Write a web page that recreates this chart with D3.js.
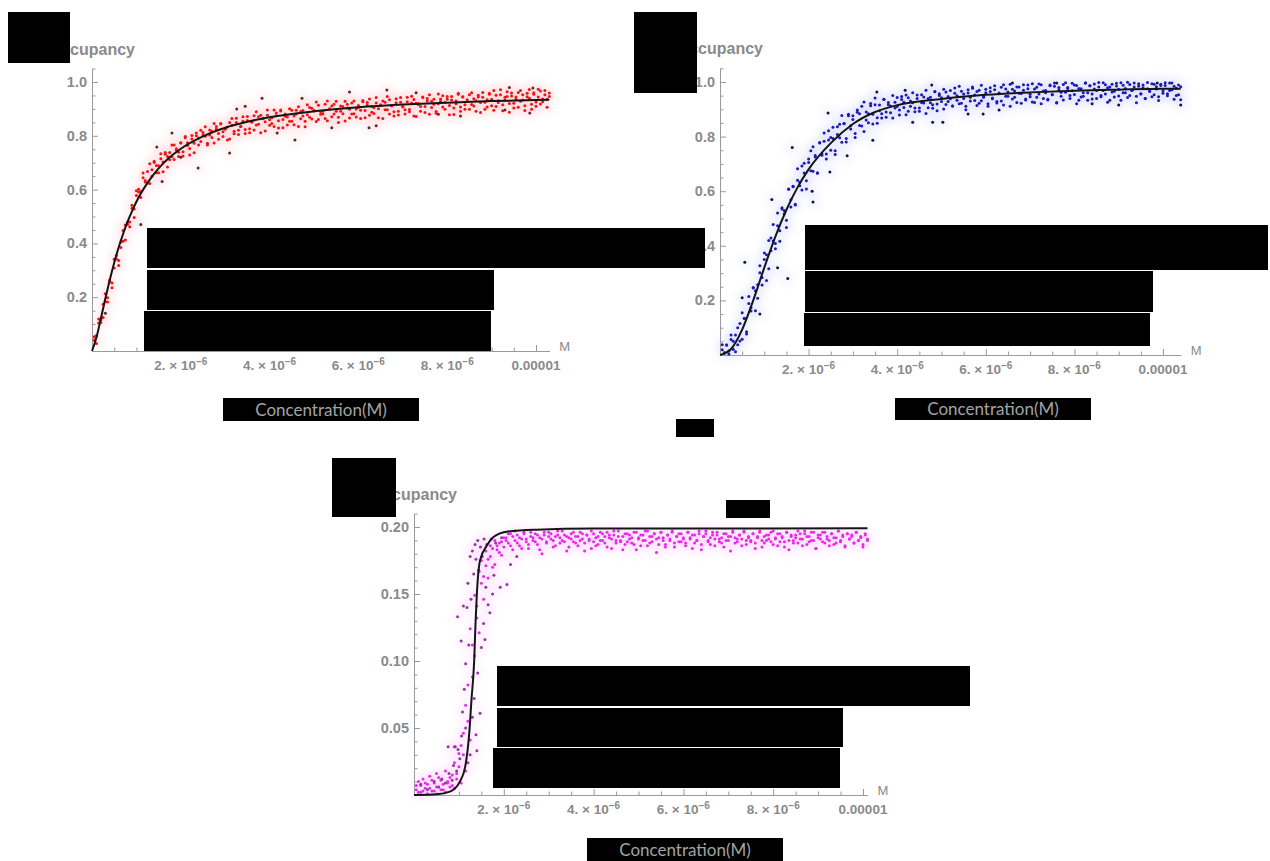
<!DOCTYPE html>
<html>
<head>
<meta charset="utf-8">
<script src="https://cdn.jsdelivr.net/npm/d3@7"></script>
<style>
  body { margin: 0; background: #ffffff; }
  svg { display: block; }
  .tick-label { font-family: "Liberation Sans", Arial, sans-serif; font-weight: bold; fill: #8a8a8a; }
  .axis-name { font-family: "Liberation Sans", Arial, sans-serif; font-weight: bold; fill: #8a8a8a; }
  .unit-name { font-family: "Liberation Sans", Arial, sans-serif; fill: #8a8a8a; }
  .caption { font-family: Lato, "Open Sans", sans-serif; fill: #a3a3a3; }
</style>
</head>
<body>
<svg id="fig" width="1270" height="861"></svg>
<script>
// Concentration grid (µM) shared by the three titrations
const concentrationUM = [
  0.05,0.1,0.15,0.2,0.25,0.3,0.35,0.4,0.45,0.5,0.55,0.6,0.65,0.7,0.75,0.8,0.85,0.9,0.95,1,
  1.05,1.1,1.15,1.2,1.25,1.3,1.35,1.4,1.45,1.5,1.55,1.6,1.65,1.7,1.75,1.8,1.85,1.9,1.95,2,
  2.05,2.1,2.15,2.2,2.25,2.3,2.35,2.4,2.45,2.5,2.55,2.6,2.65,2.7,2.75,2.8,2.85,2.9,2.95,3,
  3.05,3.1,3.15,3.2,3.25,3.3,3.35,3.4,3.45,3.5,3.55,3.6,3.65,3.7,3.75,3.8,3.85,3.9,3.95,4,
  4.05,4.1,4.15,4.2,4.25,4.3,4.35,4.4,4.45,4.5,4.55,4.6,4.65,4.7,4.75,4.8,4.85,4.9,4.95,5,
  5.05,5.1,5.15,5.2,5.25,5.3,5.35,5.4,5.45,5.5,5.55,5.6,5.65,5.7,5.75,5.8,5.85,5.9,5.95,6,
  6.05,6.1,6.15,6.2,6.25,6.3,6.35,6.4,6.45,6.5,6.55,6.6,6.65,6.7,6.75,6.8,6.85,6.9,6.95,7,
  7.05,7.1,7.15,7.2,7.25,7.3,7.35,7.4,7.45,7.5,7.55,7.6,7.65,7.7,7.75,7.8,7.85,7.9,7.95,8,
  8.05,8.1,8.15,8.2,8.25,8.3,8.35,8.4,8.45,8.5,8.55,8.6,8.65,8.7,8.75,8.8,8.85,8.9,8.95,9,
  9.05,9.1,9.15,9.2,9.25,9.3,9.35,9.4,9.45,9.5,9.55,9.6,9.65,9.7,9.75,9.8,9.85,9.9,9.95,10,
  10.05,10.1,10.15,10.2,10.25,10.3,10.35,10.4
];

// Occupancy, non-cooperative binding (red), two replicates
const occupancyA1 = [
  0.040,0.028,0.119,0.116,0.125,0.213,0.198,0.258,0.235,0.309,
  0.355,0.336,0.385,0.448,0.413,0.479,0.480,0.542,0.496,0.578,
  0.591,0.593,0.662,0.628,0.667,0.623,0.674,0.705,0.663,0.689,
  0.715,0.666,0.738,0.723,0.711,0.766,0.712,0.752,0.739,0.774,
  0.725,0.793,0.764,0.753,0.788,0.737,0.810,0.792,0.779,0.812,
  0.834,0.772,0.803,0.817,0.773,0.835,0.809,0.846,0.797,0.824,
  0.833,0.788,0.864,0.817,0.849,0.805,0.835,0.871,0.823,0.857,
  0.811,0.851,0.875,0.840,0.871,0.811,0.865,0.852,0.896,0.839,
  0.867,0.835,0.885,0.856,0.896,0.830,0.881,0.870,0.854,0.895,
  0.841,0.881,0.908,0.863,0.894,0.834,0.878,0.905,0.862,0.894,
  0.926,0.861,0.890,0.881,0.917,0.856,0.899,0.911,0.881,0.928,
  0.869,0.891,0.909,0.855,0.917,0.899,0.881,0.929,0.870,0.905,
  0.895,0.927,0.867,0.914,0.937,0.888,0.904,0.922,0.867,0.913,
  0.929,0.897,0.946,0.881,0.912,0.889,0.938,0.877,0.925,0.908,
  0.897,0.943,0.889,0.922,0.935,0.872,0.920,0.909,0.942,0.887,
  0.929,0.953,0.905,0.936,0.884,0.919,0.928,0.949,0.899,0.936,
  0.913,0.946,0.879,0.929,0.958,0.907,0.944,0.899,0.928,0.953,
  0.916,0.938,0.891,0.944,0.924,0.961,0.899,0.934,0.954,0.912,
  0.968,0.909,0.930,0.953,0.893,0.943,0.964,0.920,0.948,0.903,
  0.936,0.961,0.928,0.953,0.894,0.945,0.972,0.917,0.960,0.910,
  0.944,0.967,0.927,0.953,0.936,0.959
];
const occupancyA2 = [
  0.053,0.058,0.104,0.106,0.174,0.184,0.182,0.264,0.253,0.341,
  0.342,0.318,0.405,0.408,0.468,0.471,0.462,0.531,0.528,0.596,
  0.601,0.571,0.644,0.634,0.625,0.696,0.650,0.701,0.690,0.663,
  0.733,0.703,0.731,0.684,0.738,0.722,0.766,0.746,0.723,0.773,
  0.741,0.797,0.774,0.729,0.801,0.772,0.800,0.766,0.821,0.803,
  0.798,0.766,0.822,0.794,0.846,0.825,0.787,0.844,0.815,0.828,
  0.784,0.849,0.839,0.808,0.865,0.821,0.835,0.854,0.809,0.872,
  0.826,0.851,0.822,0.889,0.843,0.876,0.863,0.818,0.876,0.860,
  0.846,0.896,0.875,0.829,0.892,0.861,0.873,0.840,0.901,0.854,
  0.874,0.895,0.835,0.890,0.874,0.854,0.915,0.869,0.902,0.892,
  0.853,0.914,0.880,0.891,0.864,0.929,0.901,0.871,0.917,0.891,
  0.849,0.911,0.882,0.928,0.903,0.866,0.922,0.882,0.900,0.913,
  0.864,0.931,0.894,0.924,0.876,0.909,0.883,0.942,0.901,0.915,
  0.864,0.925,0.897,0.934,0.912,0.874,0.923,0.891,0.942,0.908,
  0.881,0.927,0.898,0.947,0.874,0.921,0.916,0.891,0.944,0.909,
  0.939,0.880,0.928,0.917,0.890,0.955,0.937,0.907,0.925,0.946,
  0.878,0.933,0.903,0.919,0.954,0.891,0.945,0.915,0.934,0.899,
  0.960,0.911,0.930,0.951,0.887,0.943,0.925,0.907,0.958,0.936,
  0.895,0.951,0.924,0.971,0.915,0.933,0.946,0.888,0.959,0.921,
  0.944,0.906,0.968,0.933,0.912,0.958,0.940,0.899,0.954,0.926,
  0.973,0.918,0.937,0.968,0.906,0.946
];
const outliersA = [
  [0.3,0.14],[1.1,0.47],[1.46,0.758],[1.58,0.63],[1.8,0.81],
  [2.0,0.72],[2.39,0.68],[3.1,0.736],[3.26,0.90],[3.45,0.91],[3.83,0.94],[4.17,0.81],
  [4.57,0.784],[4.73,0.94],[5.4,0.83],[5.8,0.963],[6.24,0.83],[6.4,0.837],[6.64,0.97],
  [7.3,0.96],[7.8,0.88],[8.3,0.874],[9.3,0.896],[9.4,0.98],[9.86,0.885],[9.93,0.978]
];
const fitA = [
  [0,0],[0.1,0.050],[0.2,0.121],[0.3,0.194],[0.4,0.264],[0.5,0.328],[0.6,0.385],[0.7,0.435],
  [0.8,0.480],[0.9,0.519],[1.0,0.555],[1.25,0.625],[1.5,0.679],[1.75,0.720],[2.0,0.752],
  [2.5,0.798],[3.0,0.830],[3.5,0.852],[4,0.869],[5,0.891],[6,0.906],[7,0.916],[8,0.923],
  [9,0.929],[10,0.933],[10.3,0.934]
];

// Occupancy, cooperative binding (blue), two replicates
const occupancyB1 = [
  0.019,0.009,0.037,0.015,0.057,0.020,0.073,0.038,0.115,0.058,
  0.135,0.085,0.214,0.161,0.245,0.162,0.257,0.327,0.256,0.350,
  0.273,0.419,0.382,0.478,0.389,0.473,0.417,0.535,0.517,0.467,
  0.608,0.542,0.618,0.549,0.682,0.633,0.604,0.702,0.608,0.705,
  0.748,0.673,0.725,0.668,0.777,0.732,0.813,0.718,0.788,0.750,
  0.834,0.734,0.808,0.845,0.779,0.847,0.780,0.876,0.828,0.876,
  0.811,0.889,0.841,0.911,0.819,0.890,0.851,0.921,0.882,0.917,
  0.849,0.916,0.884,0.937,0.871,0.917,0.887,0.951,0.905,0.943,
  0.879,0.936,0.907,0.952,0.893,0.930,0.961,0.905,0.940,0.893,
  0.953,0.923,0.970,0.906,0.944,0.917,0.964,0.895,0.957,0.929,
  0.973,0.918,0.947,0.969,0.912,0.959,0.933,0.984,0.922,0.956,
  0.911,0.972,0.944,0.982,0.932,0.965,0.922,0.988,0.944,0.973,
  0.920,0.965,0.939,0.986,0.929,0.960,0.981,0.916,0.974,0.948,
  0.992,0.938,0.967,0.925,0.982,0.958,0.990,0.934,0.975,0.946,
  0.994,0.925,0.981,0.956,0.990,0.940,0.969,0.934,0.986,0.953,
  0.996,0.923,0.980,0.948,0.991,0.962,0.976,0.940,0.995,0.954,
  0.987,0.933,0.975,0.948,0.997,0.961,0.986,0.938,0.993,0.969,
  0.982,0.946,0.997,0.956,0.979,0.933,0.992,0.966,0.985,0.949,
  0.997,0.961,0.976,0.943,0.991,0.969,0.996,0.948,0.984,0.957,
  0.989,0.940,0.975,0.965,0.994,0.953,0.983,0.946,0.992,0.968,
  0.987,0.957,0.996,0.972,0.984,0.951,0.989,0.935
];
const occupancyB2 = [
  0.038,0.006,0.037,0.004,0.073,0.050,0.012,0.100,0.051,0.155,
  0.134,0.077,0.189,0.173,0.247,0.235,0.208,0.301,0.284,0.374,
  0.367,0.316,0.429,0.418,0.408,0.520,0.455,0.539,0.529,0.494,
  0.607,0.569,0.616,0.552,0.640,0.620,0.692,0.667,0.638,0.718,
  0.675,0.763,0.731,0.666,0.778,0.737,0.783,0.736,0.821,0.797,
  0.793,0.748,0.836,0.796,0.877,0.848,0.793,0.882,0.840,0.863,
  0.797,0.897,0.884,0.839,0.927,0.861,0.884,0.913,0.846,0.941,
  0.869,0.895,0.868,0.936,0.890,0.925,0.912,0.868,0.926,0.910,
  0.897,0.947,0.926,0.880,0.942,0.911,0.924,0.891,0.952,0.905,
  0.925,0.945,0.885,0.940,0.924,0.904,0.965,0.919,0.951,0.942,
  0.901,0.963,0.929,0.939,0.912,0.978,0.950,0.920,0.966,0.940,
  0.898,0.960,0.930,0.977,0.952,0.914,0.970,0.931,0.948,0.961,
  0.911,0.979,0.941,0.972,0.923,0.957,0.930,0.990,0.948,0.963,
  0.911,0.973,0.944,0.982,0.959,0.922,0.970,0.938,0.989,0.955,
  0.927,0.974,0.944,0.993,0.920,0.967,0.961,0.937,0.989,0.954,
  0.984,0.925,0.972,0.962,0.934,0.997,0.980,0.951,0.968,0.989,
  0.920,0.976,0.945,0.961,0.995,0.933,0.986,0.956,0.974,0.940,
  0.998,0.951,0.969,0.990,0.926,0.982,0.963,0.945,0.995,0.973,
  0.933,0.988,0.961,0.999,0.951,0.969,0.982,0.924,0.994,0.956,
  0.979,0.940,0.998,0.968,0.946,0.992,0.974,0.932,0.987,0.959,
  0.997,0.950,0.969,0.996,0.937,0.977,0.953,0.983
];
const outliersB = [
  [0.5,0.21],[0.56,0.34],[0.9,0.15],[1.17,0.57],[1.3,0.32],[1.53,0.28],[1.63,0.76],
  [2.08,0.60],[2.1,0.56],[2.44,0.886],[2.48,0.67],[2.87,0.73],[3.45,0.787],[3.54,0.963],
  [4.18,0.97],[4.35,0.853],[4.78,0.989],[4.8,0.853],[5.03,0.853],[5.6,0.883],[5.94,0.883],
  [6.3,0.897],[6.6,0.996],[7.6,0.996],[8.4,0.92],[9.0,0.916],[9.87,0.996],[10.4,0.916]
];
const fitB = [
  [0,0],[0.25,0.022],[0.5,0.093],[0.75,0.20],[1,0.32],[1.25,0.434],[1.5,0.532],
  [1.75,0.614],[2,0.68],[2.5,0.776],[3,0.846],[3.5,0.89],[4,0.915],[5,0.938],[6,0.953],
  [7,0.962],[8,0.968],[9,0.972],[10,0.975],[10.4,0.975]
];

// Occupancy, highly cooperative binding (magenta), two replicates
const occupancyC1 = [
  0.004,0.002,0.007,0.003,0.009,0.001,0.005,0.011,0.003,0.006,
  0.013,0.004,0.008,0.002,0.010,0.006,0.015,0.005,0.012,0.021,
  0.009,0.030,0.018,0.055,0.041,0.088,0.104,0.132,0.121,0.158,
  0.146,0.171,0.162,0.178,0.184,0.172,0.186,0.181,0.189,0.185,
  0.192,0.188,0.195,0.183,0.190,0.194,0.186,0.191,0.196,0.189,
  0.184,0.193,0.190,0.195,0.187,0.192,0.180,0.194,0.189,0.196,
  0.191,0.185,0.193,0.197,0.188,0.190,0.194,0.182,0.192,0.195,
  0.189,0.193,0.186,0.196,0.191,0.188,0.194,0.190,0.184,0.195,
  0.192,0.187,0.196,0.190,0.193,0.185,0.194,0.191,0.197,0.188,
  0.193,0.190,0.183,0.195,0.189,0.194,0.192,0.187,0.196,0.191,
  0.186,0.194,0.190,0.197,0.188,0.193,0.195,0.181,0.192,0.196,
  0.190,0.187,0.194,0.191,0.196,0.185,0.193,0.189,0.195,0.192,
  0.188,0.196,0.191,0.184,0.194,0.190,0.197,0.187,0.193,0.195,
  0.189,0.192,0.196,0.186,0.194,0.191,0.188,0.195,0.190,0.193,
  0.182,0.196,0.192,0.189,0.194,0.191,0.197,0.187,0.193,0.190,
  0.195,0.188,0.192,0.196,0.185,0.193,0.190,0.194,0.189,0.197,
  0.191,0.186,0.195,0.192,0.189,0.196,0.183,0.193,0.190,0.194,
  0.188,0.195,0.191,0.197,0.187,0.193,0.190,0.196,0.184,0.192,
  0.194,0.189,0.196,0.191,0.186,0.195,0.192,0.188,0.197,0.190,
  0.193,0.185,0.195,0.191,0.194,0.188,0.196,0.190,0.193,0.187,
  0.195,0.191
];
const occupancyC2 = [
  0.007,0.010,0.002,0.012,0.005,0.008,0.014,0.003,0.009,0.016,
  0.006,0.011,0.004,0.018,0.009,0.013,0.007,0.024,0.016,0.031,
  0.037,0.046,0.067,0.082,0.124,0.112,0.149,0.141,0.167,0.175,
  0.163,0.182,0.176,0.186,0.170,0.190,0.183,0.188,0.179,0.192,
  0.190,0.195,0.186,0.193,0.197,0.188,0.192,0.184,0.195,0.191,
  0.187,0.196,0.192,0.189,0.194,0.183,0.191,0.196,0.188,0.193,
  0.195,0.190,0.186,0.194,0.192,0.197,0.189,0.193,0.185,0.191,
  0.196,0.188,0.193,0.190,0.195,0.182,0.194,0.191,0.197,0.189,
  0.186,0.193,0.190,0.195,0.188,0.196,0.192,0.184,0.194,0.190,
  0.197,0.189,0.193,0.187,0.195,0.191,0.188,0.196,0.183,0.192,
  0.194,0.190,0.197,0.186,0.193,0.189,0.195,0.191,0.187,0.196,
  0.192,0.185,0.194,0.190,0.197,0.188,0.193,0.195,0.189,0.191,
  0.186,0.196,0.192,0.194,0.188,0.190,0.195,0.183,0.193,0.197,
  0.190,0.187,0.194,0.191,0.196,0.189,0.192,0.185,0.195,0.190,
  0.193,0.197,0.188,0.191,0.194,0.186,0.196,0.190,0.192,0.189,
  0.195,0.184,0.193,0.197,0.190,0.188,0.194,0.191,0.196,0.187,
  0.192,0.195,0.189,0.193,0.185,0.196,0.190,0.194,0.188,0.192,
  0.197,0.191,0.186,0.195,0.193,0.189,0.196,0.190,0.184,0.194,
  0.191,0.196,0.188,0.193,0.190,0.195,0.187,0.192,0.197,0.189,
  0.194,0.186,0.195,0.191,0.193,0.188,0.196,0.190,0.192,0.185,
  0.194,0.190
];
const transitionC = [
  [0.15,0.008],[0.3,0.004],[0.45,0.010],[0.55,0.006],[0.62,0.012],[0.7,0.009],[0.78,0.016],
  [0.85,0.011],[0.88,0.022],[0.92,0.036],[0.95,0.018],[0.98,0.034],[1.02,0.027],[1.06,0.044],
  [1.08,0.062],[1.12,0.079],[1.05,0.115],[0.97,0.133],[1.1,0.141],[1.15,0.098],[1.18,0.14],
  [1.2,0.158],[1.22,0.112],[1.25,0.178],[1.27,0.146],[1.3,0.182],[1.33,0.165],[1.36,0.187],
  [1.38,0.176],[1.42,0.190],[1.44,0.168],[1.48,0.185],[1.52,0.178],[1.56,0.191],[1.6,0.155],
  [1.62,0.187],[1.69,0.136],[1.72,0.191],[1.78,0.164],[1.82,0.188],[1.92,0.155],[1.95,0.192],
  [2.07,0.157],[2.15,0.172],[2.29,0.178],[1.3,0.058],[1.34,0.072],[1.38,0.045],[1.42,0.091],
  [1.47,0.061],[1.5,0.110],[1.58,0.116],[1.55,0.128],[1.65,0.142],[1.75,0.150],[1.25,0.030],
  [1.2,0.024],[1.15,0.050],[1.4,0.033],[0.76,0.036],[0.9,0.036]
];
const fitC = [
  [0,0],[0.5,0.0005],[0.8,0.0025],[1.02,0.010],[1.14,0.021],[1.23,0.046],[1.28,0.071],
  [1.34,0.100],[1.37,0.128],[1.40,0.150],[1.47,0.175],[1.62,0.186],[1.77,0.1925],
  [2.06,0.1965],[2.73,0.198],[4,0.1988],[10.1,0.199]
];

// Axis ticks
const xMajorTicks = [2e-6, 4e-6, 6e-6, 8e-6, 1e-5];
const xMajorMantissa = ["2.", "4.", "6.", "8.", null];
const xMinorTicks = [0.5e-6,1e-6,1.5e-6,2.5e-6,3e-6,3.5e-6,4.5e-6,5e-6,5.5e-6,6.5e-6,7e-6,7.5e-6,8.5e-6,9e-6,9.5e-6];
const yMajorTicksAB = [0.2, 0.4, 0.6, 0.8, 1.0];
const yMajorLabelsAB = ["0.2", "0.4", "0.6", "0.8", "1.0"];
const yMinorTicksAB = [0.05,0.1,0.15,0.25,0.3,0.35,0.45,0.5,0.55,0.65,0.7,0.75,0.85,0.9,0.95,1.05];
const yMajorTicksC = [0.05, 0.10, 0.15, 0.20];
const yMajorLabelsC = ["0.05", "0.10", "0.15", "0.20"];
const yMinorTicksC = [0.01,0.02,0.03,0.04,0.06,0.07,0.08,0.09,0.11,0.12,0.13,0.14,0.16,0.17,0.18,0.19,0.21];

const svg = d3.select("#fig");
const defs = svg.append("defs");
defs.append("filter").attr("id", "haze")
  .attr("x", "-20%").attr("y", "-20%").attr("width", "140%").attr("height", "140%")
  .append("feGaussianBlur").attr("stdDeviation", 5);

// Panel frames: origin, pixel position of 1e-5 M, unit height and axis extents
const panels = [
  { reps: [occupancyA1, occupancyA2], extra: outliersA, fit: fitA,
    color: "#f01414", extraColor: "#5b2a2a", haze: "#ff8c9a",
    ox: 92, x10: 536, oy: 351, yTop: 82, yTopVal: 1.0, xMax: 1.03e-5, yMax: 1.05,
    yMaj: yMajorTicksAB, yLab: yMajorLabelsAB, yMin: yMinorTicksAB },
  { reps: [occupancyB1, occupancyB2], extra: outliersB, fit: fitB,
    color: "#1a1ab4", extraColor: "#14143c", haze: "#9aa0ff",
    ox: 720, x10: 1163, oy: 355, yTop: 82, yTopVal: 1.0, xMax: 1.04e-5, yMax: 1.05,
    yMaj: yMajorTicksAB, yLab: yMajorLabelsAB, yMin: yMinorTicksAB },
  { reps: [occupancyC1, occupancyC2], extra: transitionC, fit: fitC,
    color: "#e82ae8", extraColor: "#8c3c9c", haze: "#ff9cff",
    ox: 414, x10: 863, oy: 795, yTop: 527, yTopVal: 0.2, xMax: 1.01e-5, yMax: 0.21,
    yMaj: yMajorTicksC, yLab: yMajorLabelsC, yMin: yMinorTicksC }
];

panels.forEach(p => {
  const g = svg.append("g");
  const x = d3.scaleLinear().domain([0, 1e-5]).range([p.ox, p.x10]);
  const y = d3.scaleLinear().domain([0, p.yTopVal]).range([p.oy, p.yTop]);
  const xAxisScale = x.copy().domain([0, p.xMax]).range([p.ox, x(p.xMax)]);
  const yAxisScale = y.copy().domain([0, p.yMax]).range([p.oy, y(p.yMax)]);

  const pts = p.reps.flatMap(rep => rep.map((v, i) => [concentrationUM[i] * 1e-6, v]));
  const extra = p.extra.map(d => [d[0] * 1e-6, d[1]]);

  // soft colour bleed around the point cloud
  const hz = g.append("g").attr("filter", "url(#haze)").attr("opacity", 0.28);
  hz.selectAll("circle").data(pts.concat(extra)).join("circle")
    .attr("cx", d => x(d[0])).attr("cy", d => y(d[1])).attr("r", 4)
    .attr("fill", p.haze);

  // axes (ticks drawn inward)
  const axisStyle = sel => {
    sel.select(".domain").attr("stroke", "#9a9a9a").attr("stroke-width", 1);
    sel.selectAll(".tick line").attr("stroke", "#9a9a9a").attr("stroke-width", 1);
  };
  g.append("g").attr("transform", `translate(0,${p.oy})`)
    .call(d3.axisBottom(xAxisScale).tickValues(xMajorTicks).tickSizeInner(-6).tickSizeOuter(0).tickFormat(""))
    .call(axisStyle);
  g.append("g").attr("transform", `translate(0,${p.oy})`)
    .call(d3.axisBottom(xAxisScale).tickValues(xMinorTicks).tickSizeInner(-3.5).tickSizeOuter(0).tickFormat(""))
    .call(axisStyle);
  g.append("g").attr("transform", `translate(${p.ox},0)`)
    .call(d3.axisLeft(yAxisScale).tickValues(p.yMaj).tickSizeInner(-6).tickSizeOuter(0).tickFormat(""))
    .call(axisStyle);
  g.append("g").attr("transform", `translate(${p.ox},0)`)
    .call(d3.axisLeft(yAxisScale).tickValues(p.yMin).tickSizeInner(-3.5).tickSizeOuter(0).tickFormat(""))
    .call(axisStyle);

  // y tick labels
  g.selectAll(".ylab").data(p.yMaj).join("text")
    .attr("class", "tick-label")
    .attr("x", p.ox - 5).attr("y", d => y(d) + 5)
    .attr("text-anchor", "end").attr("font-size", 14.5)
    .text((d, i) => p.yLab[i]);

  // x tick labels
  xMajorTicks.forEach((v, i) => {
    const t = g.append("text").attr("class", "tick-label")
      .attr("x", x(v)).attr("y", p.oy + 19)
      .attr("text-anchor", "middle").attr("font-size", 13.5);
    if (xMajorMantissa[i] === null) {
      t.text("0.00001");
    } else {
      t.append("tspan").text(xMajorMantissa[i] + " \u00d7 10");
      t.append("tspan").attr("dy", -5).attr("font-size", 10).text("\u22126");
    }
  });

  // axis names
  g.append("text").attr("class", "unit-name")
    .attr("x", xAxisScale(p.xMax) + 10).attr("y", p.oy)
    .attr("font-size", 13).text("M");
  g.append("text").attr("class", "axis-name")
    .attr("x", p.ox + 43).attr("y", yAxisScale(p.yMax) - 14)
    .attr("text-anchor", "end").attr("font-size", 16).text("Occupancy");

  // data points
  g.append("g").selectAll("circle").data(pts).join("circle")
    .attr("cx", d => x(d[0])).attr("cy", d => y(d[1])).attr("r", 1.5)
    .attr("fill", p.color);
  g.append("g").selectAll("circle").data(extra).join("circle")
    .attr("cx", d => x(d[0])).attr("cy", d => y(d[1])).attr("r", 1.5)
    .attr("fill", p.extraColor);

  // fitted binding curve
  const line = d3.line().x(d => x(d[0] * 1e-6)).y(d => y(d[1])).curve(d3.curveMonotoneX);
  g.append("path").datum(p.fit).attr("d", line)
    .attr("fill", "none").attr("stroke", "#151515").attr("stroke-width", 2);
});

// Black masks over labels and legends
const masks = [
  [8, 12, 62, 51], [147, 228, 558, 40], [147, 270, 347, 40], [144, 311, 347, 40],
  [634, 12, 63, 81], [805, 225, 463, 45], [805, 271, 348, 41], [804, 313, 346, 33],
  [676, 419, 38, 18],
  [332, 458, 64, 59], [726, 500, 44, 18], [497, 666, 473, 40], [497, 708, 346, 39], [493, 748, 347, 40]
];
svg.append("g").selectAll("rect").data(masks).join("rect")
  .attr("x", d => d[0]).attr("y", d => d[1]).attr("width", d => d[2]).attr("height", d => d[3])
  .attr("fill", "#000");

// Axis captions on black bars
const captions = [[223, 398, 196, 23], [895, 398, 196, 22], [587, 838, 196, 23]];
const cap = svg.append("g").selectAll("g").data(captions).join("g");
cap.append("rect").attr("x", d => d[0]).attr("y", d => d[1]).attr("width", d => d[2]).attr("height", d => d[3]).attr("fill", "#000");
cap.append("text").attr("class", "caption")
  .attr("x", d => d[0] + d[2] / 2).attr("y", d => d[1] + d[3] / 2 + 6)
  .attr("text-anchor", "middle").attr("font-size", 17)
  .text("Concentration(M)");
</script>
</body>
</html>
